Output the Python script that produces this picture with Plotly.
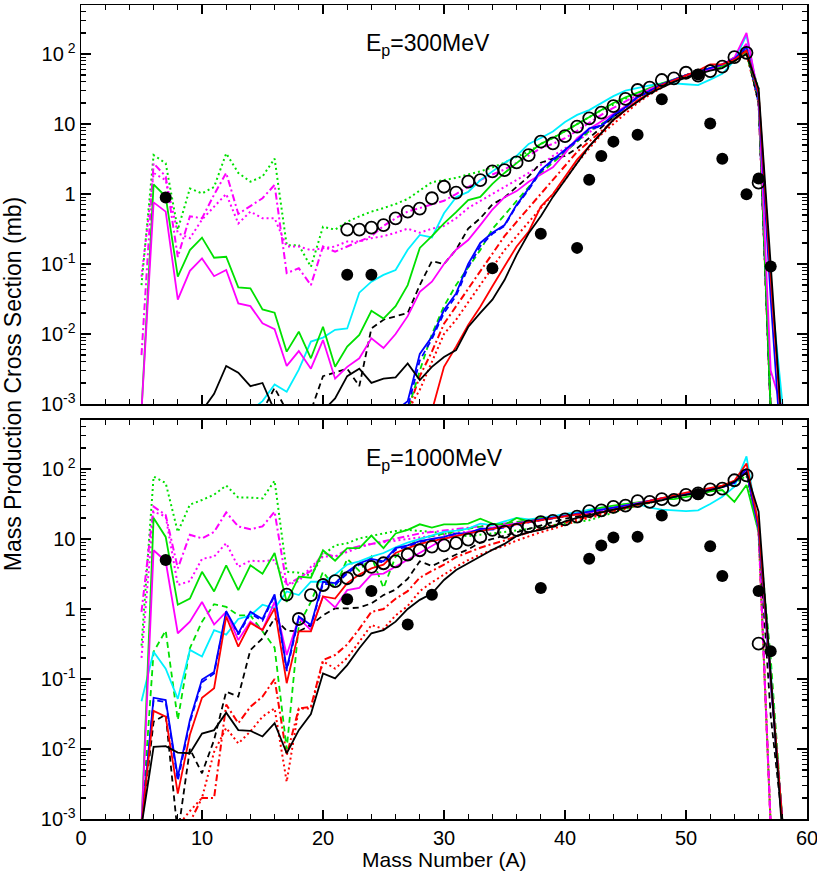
import plotly.graph_objects as go

# Mass numbers for model curves
A = list(range(5, 59))

# ---------------- Ep = 300 MeV (top panel) ----------------
top_black_solid = [8e-4, 8e-4, 8e-4, 8e-4, 8e-4, 8e-4, 0.0014, 0.0035, 0.0028, 0.0018,
                   0.002, 8e-4, 8e-4, 8e-4, 8e-4, 8e-4, 0.0012, 0.0025, 0.0032, 0.002,
                   0.0023, 0.0024, 0.0038, 0.0022, 0.0034, 0.0047, 0.0059, 0.0126, 0.02, 0.031,
                   0.059, 0.135, 0.275, 0.48, 0.91, 1.58, 2.75, 4.8, 7.4, 11.5,
                   15.8, 20.9, 27.5, 33, 40, 46, 52, 58, 63, 79,
                   100, 32, 0.091, 3e-4]
top_red_solid = [8e-4, 8e-4, 8e-4, 8e-4, 8e-4, 8e-4, 8e-4, 8e-4, 8e-4, 8e-4,
                 8e-4, 8e-4, 8e-4, 8e-4, 8e-4, 8e-4, 8e-4, 8e-4, 8e-4, 8e-4,
                 8e-4, 8e-4, 8e-4, 8e-4, 8e-4, 0.0034, 0.0066, 0.0135, 0.0245, 0.048,
                 0.091, 0.178, 0.29, 0.66, 1.0, 1.78, 3.1, 4.8, 7.4, 11.5,
                 15.8, 21.9, 27.5, 36, 42, 50, 58, 71, 71, 83,
                 112, 28, 0.063, 2.5e-4]
top_blue_solid = [8e-4, 8e-4, 8e-4, 8e-4, 8e-4, 8e-4, 8e-4, 8e-4, 8e-4, 8e-4,
                  8e-4, 8e-4, 8e-4, 8e-4, 8e-4, 8e-4, 8e-4, 8e-4, 8e-4, 8e-4,
                  8e-4, 8e-4, 0.0011, 0.0052, 0.0091, 0.022, 0.038, 0.1, 0.2, 0.28,
                  0.36, 0.7, 1.2, 2.2, 3.1, 4.3, 5.9, 8.7, 9.5, 13.5,
                  17.4, 24.5, 29.5, 37, 42.7, 50, 56, 63, 71, 85,
                  126, 25, 0.032, 1e-4]
top_cyan_solid = [8e-4, 8e-4, 8e-4, 8e-4, 8e-4, 8e-4, 8e-4, 8e-4, 8e-4, 8e-4,
                  0.0011, 0.0019, 0.0015, 0.0031, 0.0078, 0.0089, 0.0115, 0.012, 0.039, 0.056,
                  0.07, 0.082, 0.16, 0.26, 0.24, 0.53, 0.9, 1.07, 1.58, 2.1,
                  2.8, 3.5, 5.2, 6.3, 7.8, 10.7, 13.5, 15.8, 20, 25,
                  30, 33, 35.5, 38, 38, 37, 36, 43, 52, 81,
                  186, 25, 0.048, 9e-4]
top_green_solid = [8e-4, 1.37, 0.92, 0.066, 0.158, 0.238, 0.123, 0.127, 0.0465, 0.045,
                   0.0225, 0.0202, 0.0056, 0.0108, 0.0045, 0.0127, 0.0034, 0.0066, 0.0097, 0.0215,
                   0.0166, 0.025, 0.05, 0.17, 0.25, 0.38, 0.55, 0.82, 0.91, 1.4,
                   2.0, 2.8, 3.8, 5.2, 6.3, 7.9, 10, 12.6, 15.8, 20,
                   24, 28, 33, 38, 43.6, 50, 54, 59, 66, 79,
                   112, 25, 8e-4, 8e-4]
top_magenta_solid = [8e-4, 0.76, 0.56, 0.031, 0.08, 0.12, 0.067, 0.082, 0.0274, 0.025,
                     0.0142, 0.0117, 0.0035, 0.0057, 0.0032, 0.0082, 0.0023, 0.0034, 0.0045, 0.0087,
                     0.0063, 0.01, 0.018, 0.04, 0.056, 0.1, 0.16, 0.22, 0.36, 0.6,
                     0.9, 1.1, 1.5, 1.9, 2.4, 3.8, 6.3, 8.5, 11, 14,
                     18, 25, 31.6, 37, 42.7, 50, 55, 60, 71, 89,
                     200, 25, 0.003, 8e-4]
top_black_dash = [8e-4, 8e-4, 8e-4, 8e-4, 8e-4, 8e-4, 8e-4, 8e-4, 8e-4, 8e-4,
                  8e-4, 0.0017, 8e-4, 8e-4, 8e-4, 0.0025, 0.0028, 0.0032, 0.0018, 0.012,
                  0.016, 0.018, 0.02, 0.05, 0.11, 0.1, 0.16, 0.32, 0.45, 0.71,
                  0.89, 1.26, 1.78, 2.8, 3.2, 3.5, 4.5, 6.3, 8.9, 12.6,
                  17.8, 24, 29.5, 37, 42.7, 50, 56, 63, 71, 89,
                  112, 20, 8e-4, 8e-4]
top_blue_dash = [8e-4, 8e-4, 8e-4, 8e-4, 8e-4, 8e-4, 8e-4, 8e-4, 8e-4, 8e-4,
                 8e-4, 8e-4, 8e-4, 8e-4, 8e-4, 8e-4, 8e-4, 8e-4, 8e-4, 8e-4,
                 8e-4, 8e-4, 9e-4, 0.0042, 0.0085, 0.02, 0.035, 0.09, 0.18, 0.27,
                 0.35, 0.68, 1.15, 2.1, 3.0, 4.2, 5.7, 8.4, 9.3, 13,
                 17, 24, 29, 36.5, 42, 49.5, 55.5, 62, 70, 84,
                 115, 20, 8e-4, 8e-4]
top_green_dash = [8e-4, 8e-4, 8e-4, 8e-4, 8e-4, 8e-4, 8e-4, 8e-4, 8e-4, 8e-4,
                  8e-4, 8e-4, 8e-4, 8e-4, 8e-4, 8e-4, 8e-4, 8e-4, 8e-4, 8e-4,
                  8e-4, 8e-4, 8e-4, 0.003, 0.01, 0.025, 0.05, 0.089, 0.158, 0.316,
                  0.5, 0.79, 1.26, 2.0, 2.8, 4.0, 5.6, 7.9, 10, 12.6,
                  15.8, 21.4, 28, 35.5, 41.7, 50, 56, 63, 71, 83,
                  100, 22, 8e-4, 8e-4]
top_red_dashdot = [8e-4, 8e-4, 8e-4, 8e-4, 8e-4, 8e-4, 8e-4, 8e-4, 8e-4, 8e-4,
                   8e-4, 8e-4, 8e-4, 8e-4, 8e-4, 8e-4, 8e-4, 8e-4, 8e-4, 8e-4,
                   8e-4, 8e-4, 8e-4, 0.0025, 0.0056, 0.014, 0.025, 0.045, 0.079, 0.14,
                   0.25, 0.4, 0.63, 1.0, 1.58, 2.5, 4.0, 5.6, 7.9, 11.2,
                   15.8, 21, 27.5, 34.7, 41.7, 49, 55, 62, 69, 81,
                   105, 22, 8e-4, 8e-4]
top_red_dot = [8e-4, 8e-4, 8e-4, 8e-4, 8e-4, 8e-4, 8e-4, 8e-4, 8e-4, 8e-4,
               8e-4, 8e-4, 8e-4, 8e-4, 8e-4, 8e-4, 8e-4, 8e-4, 8e-4, 8e-4,
               8e-4, 8e-4, 8e-4, 0.0016, 0.004, 0.01, 0.016, 0.028, 0.05, 0.089,
               0.158, 0.25, 0.4, 0.63, 1.0, 1.58, 2.8, 4.5, 7.1, 10,
               14.1, 20, 26.3, 33, 40, 48, 55, 62, 69, 79,
               100, 20, 8e-4, 8e-4]
top_green_dot = [0.05, 3.6, 2.75, 0.31, 1.2, 1.02, 1.26, 3.8, 2.0, 1.5,
                 1.78, 3.2, 0.186, 0.186, 0.091, 0.34, 0.31, 0.4, 0.48, 0.56,
                 0.63, 0.72, 0.85, 1.12, 1.48, 1.58, 1.7, 1.9, 2.1, 2.4,
                 2.8, 3.4, 4.0, 5.2, 6.3, 7.9, 10, 12.6, 15.8, 19,
                 23, 27.5, 31.6, 37, 42.7, 50, 55, 61.7, 69, 83,
                 112, 32, 8e-4, 8e-4]
top_magenta_dot = [0.066, 2.0, 1.58, 0.275, 0.234, 0.43, 0.66, 1.0, 0.38, 0.56,
                   0.45, 0.45, 0.178, 0.178, 0.158, 0.166, 0.178, 0.21, 0.21, 0.234,
                   0.25, 0.28, 0.32, 0.28, 0.32, 0.35, 0.45, 0.63, 0.79, 1.0,
                   1.26, 1.58, 2.0, 2.6, 3.5, 4.5, 5.6, 7.6, 10, 12.6,
                   16.6, 22.4, 29, 36, 42, 49, 55, 61, 69, 84,
                   120, 22, 8e-4, 8e-4]
top_magenta_dashdot = [0.005, 2.75, 1.78, 0.126, 0.48, 0.45, 0.98, 2.0, 0.52, 0.68,
                       0.87, 1.35, 0.074, 0.087, 0.05, 0.178, 0.15, 0.178, 0.21, 0.25,
                       0.35, 0.45, 0.56, 0.63, 0.71, 0.8, 1.0, 1.26, 1.58, 1.9,
                       2.24, 2.8, 3.5, 4.5, 5.2, 6.3, 8, 10.5, 13.5, 17,
                       21, 26, 31, 37, 42.7, 50, 55, 61, 69, 85,
                       140, 22, 8e-4, 8e-4]

top_open_A = list(range(22, 57))
top_open = [0.31, 0.31, 0.33, 0.36, 0.45, 0.56, 0.62, 0.87, 1.27, 1.05,
            1.5, 1.58, 2.1, 2.2, 2.83, 3.6, 5.6, 5.3, 6.7, 9.2,
            12, 14.5, 18, 22.8, 30.6, 33, 42.5, 45, 54, 49,
            57, 66, 90, 104, 1.45]
top_filled_A = [7, 22, 24, 34, 38, 41, 42, 43, 44, 46, 48, 51, 52, 53, 55, 56, 57]
top_filled = [0.89, 0.07, 0.07, 0.087, 0.27, 0.17, 1.6, 3.5, 5.6, 7.0, 22.5, 51, 10.2, 3.2, 0.99, 1.67, 0.092]

# ---------------- Ep = 1000 MeV (bottom panel) ----------------
bot_black_solid = [8e-4, 0.0107, 0.011, 0.0089, 0.0087, 0.0166, 0.0186, 0.033, 0.0186, 0.0182,
                   0.0151, 0.0234, 0.0087, 0.0186, 0.0316, 0.12, 0.102, 0.158, 0.275, 0.45,
                   0.5, 0.66, 1.0, 1.35, 1.66, 2.6, 3.6, 4.5, 5.6, 7.0,
                   8.5, 11, 12.5, 13.5, 15.1, 17.8, 20, 21.9, 24, 26.3,
                   28, 31.6, 33, 35.5, 40, 42.7, 45.7, 50, 55, 66,
                   89, 24.5, 0.13, 5e-4]
bot_red_solid = [8e-4, 0.035, 0.029, 0.0023, 0.016, 0.054, 0.074, 0.78, 0.29, 0.63,
                 0.5, 1.02, 0.087, 0.48, 0.48, 1.51, 1.41, 2.34, 3.1, 3.8,
                 4.3, 6.3, 7.4, 8.5, 9.3, 10, 11, 12, 13, 14,
                 15, 16.2, 17.4, 18.6, 20, 21, 22.4, 22, 24, 26,
                 28, 31, 35, 38, 42, 46, 50, 54, 58, 68,
                 120, 16, 0.1, 8e-4]
bot_blue_solid = [8e-4, 0.054, 0.05, 0.004, 0.026, 0.098, 0.126, 0.93, 0.45, 0.91,
                  0.72, 1.62, 0.14, 0.78, 0.59, 2.45, 2.34, 3.4, 4.5, 5.2,
                  4.8, 7.4, 8.1, 9.3, 10, 10.7, 12, 12, 14, 14,
                  15.1, 16.6, 17.8, 19, 20, 21.4, 23, 24.5, 26, 28,
                  30, 32, 35, 38, 40, 44, 47, 52, 55, 63,
                  100, 14, 0.1, 8e-4]
bot_cyan_solid = [0.048, 0.245, 0.14, 0.052, 0.26, 0.21, 0.5, 0.43, 0.72, 0.81,
                  1.15, 1.02, 1.78, 1.58, 2.45, 2.45, 3.1, 4.3, 4.8, 5.6,
                  6.3, 7.6, 8.9, 10, 11.2, 12.6, 13.2, 14.1, 16.6, 15.8,
                  17.8, 20, 19, 20, 21, 22.9, 24, 26.3, 28, 28,
                  31.6, 31.6, 28, 26.3, 25.7, 25, 25.7, 31.6, 40, 56,
                  151, 14, 0.13, 7e-4]
bot_green_solid = [8e-4, 20, 10.7, 1.15, 1.41, 3.4, 1.78, 4.2, 1.86, 4.2,
                   3.2, 6.3, 1.26, 2.9, 2.8, 6.9, 4.9, 7.4, 7.4, 11.2,
                   7.4, 12, 13.5, 16.2, 14.5, 16.2, 16.2, 16.6, 19.5, 16.6,
                   15.8, 20, 17.8, 20, 20, 21.4, 22.4, 25, 28, 30,
                   31.6, 34, 35.5, 37, 37, 40, 42.7, 48, 50, 34,
                   59, 12.6, 0.1, 8e-4]
bot_magenta_solid = [8e-4, 6.9, 4.8, 0.45, 0.66, 1.26, 0.6, 0.91, 0.36, 0.66,
                     0.5, 1.26, 0.22, 0.74, 0.5, 1.51, 1.05, 1.86, 2.0, 3.1,
                     3.2, 4.0, 5.0, 6.3, 7.9, 10, 11.2, 12.6, 13.5, 14.5,
                     15.8, 17, 18, 19, 20, 21, 22.4, 24, 26, 28,
                     30, 33, 35, 38, 40, 44, 47, 52, 56, 66,
                     95, 14, 0.09, 8e-4]
bot_black_dash = [8e-4, 0.0245, 0.031, 6e-4, 0.01, 0.0045, 0.0135, 0.066, 0.056, 0.26,
                  0.38, 0.74, 0.49, 0.48, 0.59, 0.81, 1.02, 1.02, 1.05, 1.2,
                  1.58, 1.9, 2.7, 4.8, 4.1, 5.0, 6.0, 7.1, 8.9, 10,
                  11.2, 12.6, 14.1, 15.8, 17.8, 19.5, 21, 22.9, 25, 27,
                  29, 31.6, 34, 37, 40, 44, 47, 52, 56, 66,
                  89, 14, 0.03, 8e-4]
bot_blue_dash = [8e-4, 0.05, 0.047, 0.0035, 0.024, 0.09, 0.12, 0.88, 0.43, 0.86,
                 0.68, 1.55, 0.13, 0.74, 0.56, 2.3, 2.2, 3.2, 4.3, 5.0,
                 4.6, 7.0, 7.8, 9.0, 9.6, 10.3, 11.5, 11.7, 13.5, 13.6,
                 14.6, 16, 17.3, 18.5, 19.5, 21, 22.5, 24, 25.5, 27.5,
                 29.5, 31.5, 34.5, 37.5, 40, 43.5, 46.5, 51, 55, 63,
                 95, 14, 0.09, 8e-4]
bot_green_dash = [8e-4, 0.245, 0.49, 0.026, 0.275, 0.66, 1.17, 1.07, 0.81, 0.81,
                  0.48, 0.28, 0.01, 0.59, 1.26, 3.4, 2.0, 5.2, 3.5, 5.6,
                  2.0, 5.6, 7.9, 10, 11, 12, 13, 14, 15, 15.8,
                  16.6, 17.8, 18.6, 19.5, 20.4, 21.4, 22.4, 23.4, 25, 27,
                  29, 31.6, 34, 37, 40, 44, 47, 52, 56, 66,
                  90, 14, 0.2, 8e-4]
bot_red_dashdot = [8e-4, 8e-4, 8e-4, 8e-4, 9e-4, 0.002, 0.002, 0.043, 0.0234, 0.04,
                   0.056, 0.1, 0.0081, 0.038, 0.04, 0.186, 0.22, 0.31, 0.52, 0.91,
                   1.0, 1.4, 1.8, 2.8, 3.5, 4.3, 5.5, 6.5, 7.5, 8.5,
                   9.5, 11, 12.5, 14, 15.5, 17, 19, 21, 23, 25.5,
                   28, 30, 33, 36, 40, 44, 47, 52, 56, 66,
                   100, 14, 8e-4, 8e-4]
bot_red_dot = [8e-4, 8e-4, 8e-4, 8e-4, 0.0013, 0.002, 0.0091, 0.02, 0.012, 0.0178,
               0.029, 0.038, 0.0034, 0.038, 0.038, 0.178, 0.141, 0.2, 0.34, 0.59,
               0.52, 0.81, 1.1, 1.8, 2.4, 3.1, 4.0, 5.0, 6.0, 7.0,
               8.0, 9.5, 11, 12.5, 14, 16, 18, 20, 22, 25,
               27, 30, 33, 36, 40, 44, 47, 52, 56, 66,
               95, 12, 8e-4, 8e-4]
bot_green_dot = [0.3, 78, 63, 12.6, 31, 36, 43, 58, 39, 39,
                 38, 68, 3.4, 3.3, 3.0, 5.9, 8.1, 8.7, 10.2, 11,
                 12, 13, 13.5, 13.2, 12.6, 12, 11.5, 11, 11.5, 12,
                 12.6, 13.2, 14, 15, 15.8, 16.6, 17.4, 18.5, 21, 24,
                 27, 30, 33, 36, 40, 44, 48, 52, 56, 63,
                 80, 14, 8e-4, 8e-4]
bot_magenta_dot = [0.2, 24.5, 21, 2.2, 2.5, 5.2, 5.6, 8.7, 4.0, 4.9,
                   4.8, 5.0, 2.2, 2.5, 4.0, 5.6, 5.6, 6.6, 7.6, 8.5,
                   8.9, 9.5, 10, 10.5, 11, 11.5, 12, 12.6, 13.2, 14,
                   15, 16, 17.4, 18.6, 20, 21.4, 22.9, 24.5, 26, 28,
                   30, 32, 35, 38, 40, 44, 47, 52, 56, 66,
                   95, 14, 8e-4, 8e-4]
bot_magenta_dashdot = [0.91, 29, 22, 3.8, 11.5, 10.2, 12.6, 24, 15.1, 13.8,
                       15.1, 24.5, 2.2, 2.8, 3.5, 6.3, 5.6, 7.1, 7.9, 8.5,
                       9.3, 10, 11, 12, 12.6, 13.2, 13.8, 14.5, 15.1, 15.8,
                       16.6, 17.4, 18.2, 19, 20, 21.4, 22.9, 24.5, 26, 28,
                       30, 32, 35, 38, 40, 44, 47, 52, 56, 66,
                       95, 14, 8e-4, 8e-4]

bot_open_A = list(range(17, 57))
bot_open = [1.6, 0.72, 1.58, 2.2, 2.5, 2.75, 3.6, 4.0, 4.5, 4.8,
            6.0, 6.9, 7.8, 8.1, 8.7, 9.8, 10.7, 13.5, 12.6, 13.5,
            15.1, 17.4, 18.2, 19, 20.9, 25, 25.7, 28.8, 30, 34.7,
            33.9, 37, 36.3, 42.7, 44.7, 51.3, 52.5, 69, 81, 0.32]
bot_filled_A = [7, 22, 24, 27, 29, 38, 42, 43, 44, 46, 48, 51, 52, 53, 56, 57]
bot_filled = [5.0, 1.38, 1.8, 0.6, 1.6, 2.0, 5.2, 8.1, 10.5, 10.8, 21.6, 44, 7.9, 2.95, 1.8, 0.25]

y_tickvals = [0.001, 0.01, 0.1, 1, 10, 100]
y_ticktext = ["10<sup>-3</sup>", "10<sup>-2</sup>", "10<sup>-1</sup>", "1", "10", "10<sup> 2</sup>"]
x_tickvals = [0, 10, 20, 30, 40, 50, 60]

BLACK, RED, BLUE = "#000000", "#ff0000", "#0000ff"
CYAN, GREEN, MAGENTA = "#00f0ff", "#00e000", "#ff00ff"
DASH, DOT, DASHDOT = "6px,4px", "2px,3px", "7px,3px,2px,3px"

series = [
    (top_red_dot, bot_red_dot, RED, DOT, 2.0),
    (top_red_dashdot, bot_red_dashdot, RED, DASHDOT, 2.0),
    (top_green_dot, bot_green_dot, GREEN, DOT, 2.0),
    (top_magenta_dot, bot_magenta_dot, MAGENTA, DOT, 2.0),
    (top_magenta_dashdot, bot_magenta_dashdot, MAGENTA, DASHDOT, 2.0),
    (top_green_dash, bot_green_dash, GREEN, DASH, 1.8),
    (top_blue_dash, bot_blue_dash, BLUE, DASH, 1.8),
    (top_black_dash, bot_black_dash, BLACK, DASH, 1.8),
    (top_cyan_solid, bot_cyan_solid, CYAN, "solid", 1.8),
    (top_green_solid, bot_green_solid, GREEN, "solid", 1.8),
    (top_magenta_solid, bot_magenta_solid, MAGENTA, "solid", 1.8),
    (top_blue_solid, bot_blue_solid, BLUE, "solid", 1.8),
    (top_red_solid, bot_red_solid, RED, "solid", 1.8),
    (top_black_solid, bot_black_solid, BLACK, "solid", 1.8),
]

fig = go.Figure()
for top, bot, color, dash, w in series:
    fig.add_trace(go.Scatter(x=A, y=top, mode="lines", xaxis="x", yaxis="y",
                             line=dict(color=color, dash=dash, width=w), showlegend=False))
    fig.add_trace(go.Scatter(x=A, y=bot, mode="lines", xaxis="x2", yaxis="y2",
                             line=dict(color=color, dash=dash, width=w), showlegend=False))

for xa, ya, ox, oy, fx, fy in [("x", "y", top_open_A, top_open, top_filled_A, top_filled),
                                ("x2", "y2", bot_open_A, bot_open, bot_filled_A, bot_filled)]:
    fig.add_trace(go.Scatter(x=ox, y=oy, mode="markers", xaxis=xa, yaxis=ya, showlegend=False,
                             marker=dict(symbol="circle-open", size=12, color="black",
                                         line=dict(width=1.8, color="black"))))
    fig.add_trace(go.Scatter(x=fx, y=fy, mode="markers", xaxis=xa, yaxis=ya, showlegend=False,
                             marker=dict(symbol="circle", size=12, color="black")))

minor_y = [m * 10 ** d for d in range(-3, 3) for m in range(2, 10)]

font = "Liberation Sans, Arial, Helvetica, sans-serif"
xcommon = dict(range=[0, 60], tickvals=x_tickvals, ticks="inside", ticklen=9, tickwidth=1.2,
               tickcolor="black", showline=True, linecolor="black", linewidth=1.5,
               mirror="ticks", showgrid=False, zeroline=False, automargin=False,
               ticklabeloverflow="allow",
               minor=dict(dtick=2, tick0=0, ticks="inside", ticklen=5, tickcolor="black", tickwidth=1.2),
               tickfont=dict(family=font, size=20, color="black"))
ycommon = dict(type="log", range=[-3, 2.7], tickmode="array", tickvals=y_tickvals, ticktext=y_ticktext,
               ticks="inside", ticklen=10, tickwidth=1.2, tickcolor="black",
               showline=True, linecolor="black", linewidth=1.5, mirror="ticks",
               showgrid=False, zeroline=False, automargin=False, ticklabeloverflow="allow",
               minor=dict(tickvals=minor_y, ticks="inside", ticklen=5, tickcolor="black", tickwidth=1.2),
               tickfont=dict(family=font, size=20, color="black"))

fig.update_layout(
    width=817, height=879,
    margin=dict(l=81, r=10, t=5, b=60, autoexpand=False),
    paper_bgcolor="white", plot_bgcolor="white",
    hovermode=False,
    xaxis=dict(domain=[0, 1], anchor="y", showticklabels=False, **xcommon),
    yaxis=dict(domain=[0.5098, 1], anchor="x", **ycommon),
    xaxis2=dict(domain=[0, 1], anchor="y2", showticklabels=True, **xcommon),
    yaxis2=dict(domain=[0, 0.4902], anchor="x2", **ycommon),
    font=dict(family=font, color="black"),
    annotations=[
        dict(text="E<sub>p</sub>=300MeV", x=23.4, y=2.13, xref="x", yref="y",
             xanchor="left", yanchor="middle", showarrow=False,
             font=dict(family=font, size=23, color="black")),
        dict(text="E<sub>p</sub>=1000MeV", x=23.4, y=2.13, xref="x2", yref="y2",
             xanchor="left", yanchor="middle", showarrow=False,
             font=dict(family=font, size=23, color="black")),
        dict(text="Mass Number (A)", x=0.5, y=-0.05, xref="paper", yref="paper",
             xanchor="center", yanchor="middle", showarrow=False,
             font=dict(family=font, size=21, color="black")),
        dict(text="Mass Production Cross Section (mb)", x=-0.094, y=0.535, xref="paper", yref="paper",
             xanchor="center", yanchor="middle", textangle=-90, showarrow=False,
             font=dict(family=font, size=23, color="black")),
    ],
)

fig.write_html("out.html", config={"displayModeBar": False, "staticPlot": True},
               post_script="document.body.style.margin='0px';")
